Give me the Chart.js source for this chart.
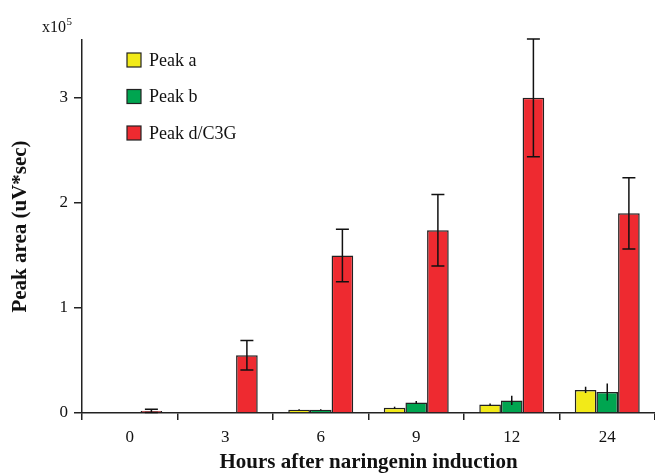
<!DOCTYPE html>
<html>
<head>
<meta charset="utf-8">
<script src="https://cdn.jsdelivr.net/npm/chart.js@4/dist/chart.umd.min.js"></script>
<style>
  body { margin: 0; background: #fff; }
  #wrap { width: 655px; height: 473px; }
</style>
</head>
<body>
<div id="wrap"><canvas id="chart" width="655" height="473"></canvas></div>
<script>
// hours after induction
const hours = ['0', '3', '6', '9', '12', '24'];

// peak areas, in units of 10^5 uV*sec
const peakA = [0, 0, 0.03, 0.05, 0.08, 0.22];
const peakB = [0, 0, 0.03, 0.10, 0.12, 0.20];
const peakD = [0.02, 0.55, 1.50, 1.74, 3.00, 1.90];

// error bar half-lengths
const errA = [0, 0, 0.005, 0.01, 0.01, 0.03];
const errB = [0, 0, 0.005, 0.015, 0.045, 0.08];
const errD = [0.015, 0.14, 0.25, 0.34, 0.56, 0.34];

const yTicks = [0, 1, 2, 3];

const serif = '"Liberation Serif", "DejaVu Serif", serif';

const errorBars = {
    id: 'errorBars',
    afterDatasetsDraw(chart) {
        const ctx = chart.ctx;
        const y = chart.scales.y;
        ctx.save();
        ctx.strokeStyle = '#111';
        ctx.lineWidth = 1.5;
        chart.data.datasets.forEach(function (ds, i) {
            const meta = chart.getDatasetMeta(i);
            meta.data.forEach(function (bar, j) {
                const e = ds.errors[j];
                if (!e) return;
                const v = ds.data[j];
                const top = y.getPixelForValue(v + e);
                const bot = y.getPixelForValue(Math.max(v - e, 0));
                const half = ds.capWidth / 2;
                ctx.beginPath();
                ctx.moveTo(bar.x, top);
                ctx.lineTo(bar.x, bot);
                if (half > 0) {
                    ctx.moveTo(bar.x - half, top);
                    ctx.lineTo(bar.x + half, top);
                    if (v - e > 0) {
                        ctx.moveTo(bar.x - half, bot);
                        ctx.lineTo(bar.x + half, bot);
                    }
                }
                ctx.stroke();
            });
        });
        ctx.restore();
    }
};

const extras = {
    id: 'extras',
    afterDraw(chart) {
        const ctx = chart.ctx;
        const area = chart.chartArea;
        ctx.save();
        // scale factor label
        ctx.fillStyle = '#111';
        ctx.font = '16px ' + serif;
        ctx.textBaseline = 'alphabetic';
        ctx.textAlign = 'left';
        ctx.fillText('x10', 42, 32);
        const w = ctx.measureText('x10').width;
        ctx.font = '11px ' + serif;
        ctx.fillText('5', 42 + w + 0.5, 25);
        // legend
        ctx.font = '18px ' + serif;
        ctx.textBaseline = 'middle';
        chart.data.datasets.forEach(function (ds, i) {
            const bx = area.left + 45;
            const by = area.top + 13 + i * 36.5;
            ctx.fillStyle = ds.backgroundColor;
            ctx.fillRect(bx, by, 14, 14);
            ctx.strokeStyle = '#222';
            ctx.lineWidth = 1.2;
            ctx.strokeRect(bx, by, 14, 14);
            ctx.fillStyle = '#111';
            ctx.fillText(ds.label, bx + 22, by + 8);
        });
        ctx.restore();
    }
};

new Chart(document.getElementById('chart'), {
    type: 'bar',
    data: {
        labels: hours,
        datasets: [
            { label: 'Peak a', data: peakA, errors: errA, capWidth: 0, backgroundColor: '#f2ea18' },
            { label: 'Peak b', data: peakB, errors: errB, capWidth: 0, backgroundColor: '#00a550' },
            { label: 'Peak d/C3G', data: peakD, errors: errD, capWidth: 13, backgroundColor: '#ee2a30' }
        ]
    },
    options: {
        responsive: false,
        animation: false,
        layout: { padding: { top: 40, right: 0, left: 0, bottom: 0 } },
        datasets: {
            bar: {
                borderColor: '#222',
                borderWidth: 1.5,
                categoryPercentage: 0.68,
                barPercentage: 1.0
            }
        },
        plugins: {
            legend: { display: false },
            tooltip: { enabled: false }
        },
        scales: {
            x: {
                offset: true,
                grid: {
                    offset: true,
                    drawOnChartArea: false,
                    drawTicks: true,
                    tickLength: 7,
                    color: '#222',
                    lineWidth: 1.5
                },
                border: { display: true, color: '#222', width: 1.5 },
                ticks: {
                    color: '#111',
                    font: { family: serif, size: 17 },
                    padding: 7
                },
                title: {
                    display: true,
                    text: 'Hours after naringenin induction',
                    color: '#111',
                    font: { family: serif, size: 21, weight: 'bold' },
                    padding: { top: 0, bottom: -2 }
                },
                afterFit(scale) { scale.height = 60; }
            },
            y: {
                min: 0,
                max: 3.55,
                grid: {
                    drawOnChartArea: false,
                    drawTicks: true,
                    tickLength: 8,
                    color: '#222',
                    lineWidth: 1.5
                },
                border: { display: true, color: '#222', width: 1.5 },
                ticks: {
                    stepSize: 1,
                    color: '#111',
                    font: { family: serif, size: 17 },
                    padding: 6
                },
                afterBuildTicks(scale) {
                    scale.ticks = yTicks.map(function (v) { return { value: v }; });
                },
                title: {
                    display: true,
                    text: 'Peak area (uV*sec)',
                    color: '#111',
                    font: { family: serif, size: 21, weight: 'bold' },
                    padding: { top: 8, bottom: 0 }
                },
                afterFit(scale) { scale.width = 82; }
            }
        }
    },
    plugins: [errorBars, extras]
});
</script>
</body>
</html>
